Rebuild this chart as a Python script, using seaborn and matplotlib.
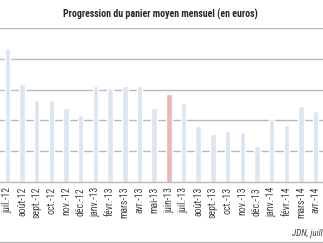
import matplotlib
matplotlib.use("Agg")
import matplotlib.pyplot as plt
import seaborn as sns
import pandas as pd

months = ["juil.-12", "août-12", "sept.-12", "oct.-12", "nov.-12", "déc.-12",
          "janv.-13", "févr.-13", "mars-13", "avr.-13", "mai-13", "juin-13",
          "juil.-13", "août-13", "sept.-13", "oct.-13", "nov.-13", "déc.-13",
          "janv.-14", "févr.-14", "mars-14", "avr.-14"]
values = [43.5, 31.8, 26.7, 26.5, 24.1, 21.9,
          31.3, 30.6, 31.3, 31.3, 23.9, 28.6,
          25.7, 18.2, 15.6, 16.5, 16.2, 11.7,
          20.5, 18.5, 24.7, 22.9]
highlight = "juin-13"
title = "Progression du panier moyen mensuel (en euros)"
source = "JDN, juillet 2014"

BLUE = "#dce6f2"
RED = "#e6b9b8"
colors = [RED if m == highlight else BLUE for m in months]

df = pd.DataFrame({"mois": months, "valeur": values})

sns.set_style("white")
plt.rcParams["font.family"] = ["Roboto Condensed", "Liberation Sans Narrow",
                               "Lato", "DejaVu Sans"]

W, H = 323, 243
fig = plt.figure(figsize=(W / 100, H / 100), dpi=100)
ax = fig.add_axes([0, (H - 182) / H, 1, 154 / H])

sns.barplot(data=df, x="mois", y="valeur", hue="mois", palette=colors,
            legend=False, width=0.37, ax=ax, saturation=1)

ax.set_xlim(-0.33, 21.0)
ax.set_ylim(0, 50)
ax.set_yticks([10, 20, 30, 40, 50])
ax.yaxis.grid(True, color="#b8b8b8", linewidth=1.0)
ax.set_axisbelow(True)
for s in ["left", "right", "top"]:
    ax.spines[s].set_visible(False)
ax.spines["bottom"].set_color("#b8b8b8")
ax.spines["bottom"].set_linewidth(1.0)
ax.tick_params(axis="y", left=False, labelleft=False)

ax.set_xticks(range(len(months)))
ax.set_xticklabels(months, rotation=90, fontsize=5.5, color="#404040")
ax.tick_params(axis="x", length=0, pad=3.5)
ax.set_xticks([i - 0.5 for i in range(len(months) + 1)], minor=True)
ax.tick_params(axis="x", which="minor", length=3, color="#b8b8b8", width=0.8)
ax.set_xlabel("")
ax.set_ylabel("")

t = fig.text(160 / W, 1 - 14 / H, title, ha="center", va="center",
             fontsize=7, fontweight="bold", color="#262626")
src = fig.text(292 / W, 1 - 233 / H, source, ha="left", va="center",
               fontsize=5.5, style="italic", color="#404040")
fig.add_artist(plt.Line2D([0, 1], [1 - 241.5 / H] * 2, color="#b8b8b8",
                          linewidth=1.0, transform=fig.transFigure))

# fit text sizes to the reference's measured extents
fig.canvas.draw()
r = fig.canvas.get_renderer()
tw = t.get_window_extent(r).width
t.set_fontsize(7 * 196 / tw)
lbl = ax.get_xticklabels()[0]
lh = lbl.get_window_extent(r).height
fs = 5.5 * 26 / lh
for l in ax.get_xticklabels():
    l.set_fontsize(fs)
probe = fig.text(0, 0, "JDN, juill", fontsize=5.5, style="italic")
pw = probe.get_window_extent(r).width
probe.remove()
src.set_fontsize(5.5 * 31 / pw)

fig.savefig("out.png", dpi=100)
